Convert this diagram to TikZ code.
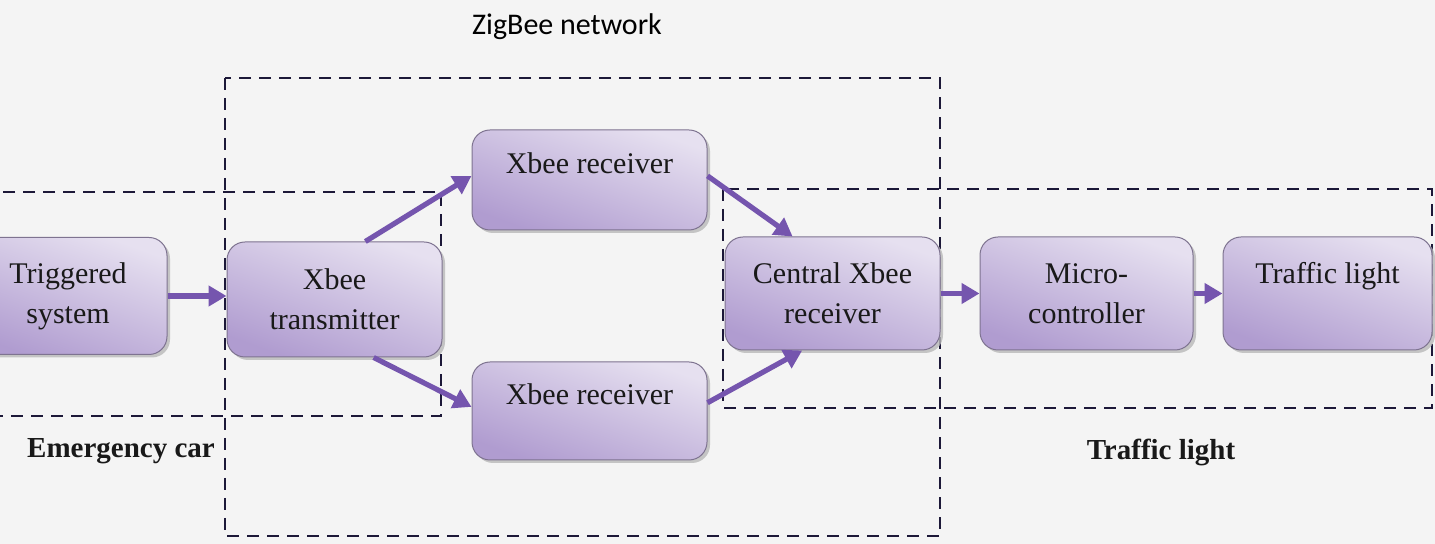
\documentclass[tikz,border=0pt]{standalone}
\usepackage{fontspec}
\setmainfont{Liberation Serif}
\newfontfamily\calib{Carlito}
\usetikzlibrary{arrows.meta,shadows}
\definecolor{bg}{HTML}{F4F4F4}
\definecolor{boxlight}{HTML}{E6E0F0}
\definecolor{boxdark}{HTML}{B09CD0}
\definecolor{boxedge}{HTML}{7E7390}
\definecolor{arrowc}{HTML}{7555AE}
\definecolor{dashc}{HTML}{1C1838}
\tikzset{
  blk/.style={draw=boxedge, line width=0.5pt, rounded corners=9pt,
    top color=boxlight, bottom color=boxdark, shading angle=-20,
    drop shadow={shadow xshift=1.5pt, shadow yshift=-1.5pt, fill=gray!55, opacity=0.8},
    align=center, inner sep=0pt, font=\fontsize{15}{20}\selectfont, text=black!90},
  grp/.style={draw=dashc, line width=1.25pt, dash pattern=on 6pt off 4pt},
  arr/.style={draw=arrowc, line width=2.6pt, -{Triangle[length=9pt,width=10pt]}},
  lbl/.style={font=\fontsize{14.5}{17}\selectfont\bfseries, text=black!90, inner sep=0pt},
}
\begin{document}
\begin{tikzpicture}[x=0.5pt,y=-0.5pt]
\useasboundingbox (0,0) rectangle (1435,544);
\fill[bg] (0,0) rectangle (1435,544);
% groups
\draw[grp] (225,78) rectangle (940,536);
\draw[grp] (-5,192) rectangle (441,416);
\draw[grp] (723,189) rectangle (1432,408);
% boxes
\node[blk, minimum width=99pt, minimum height=58.5pt] (trig) at (68,296) {Triggered\\system};
\node[blk, minimum width=107.5pt, minimum height=57.5pt] (tx) at (334.5,299.5) {Xbee\\transmitter};
\node[blk, minimum width=117.5pt, minimum height=50pt, text depth=17pt] (rx1) at (589.5,180) {Xbee receiver};
\node[blk, minimum width=117.5pt, minimum height=49pt, text depth=17pt] (rx2) at (589.5,411) {Xbee receiver};
\node[blk, minimum width=107.5pt, minimum height=56.5pt] (cen) at (832.5,293.5) {Central Xbee\\receiver};
\node[blk, minimum width=106.5pt, minimum height=56.5pt] (mc) at (1086.5,293.5) {Micro-\\controller};
\node[blk, minimum width=104.5pt, minimum height=56.5pt, text depth=21pt] (tl) at (1327.5,293.5) {Traffic light};
% labels
\node[font=\calib\fontsize{15}{18}\selectfont, inner sep=0pt] (zig) at (567,27) {ZigBee network};
\node[lbl] (emc) at (121,451) {Emergency car};
\node[lbl] (tll) at (1161,452) {Traffic light};
% arrows
\draw[arr] (trig.east) -- (trig.east -| tx.west);
\draw[arr] (tx.62) -- (rx1.178);
\draw[arr] (tx.-56) -- (rx2.178);
\draw[arr] (rx1.2) -- (cen.125);
\draw[arr] (rx2.4) -- (cen.-118);
\draw[arr] (cen.east) -- (cen.east -| mc.west);
\draw[arr] (mc.east) -- (mc.east -| tl.west);
\end{tikzpicture}
\end{document}
